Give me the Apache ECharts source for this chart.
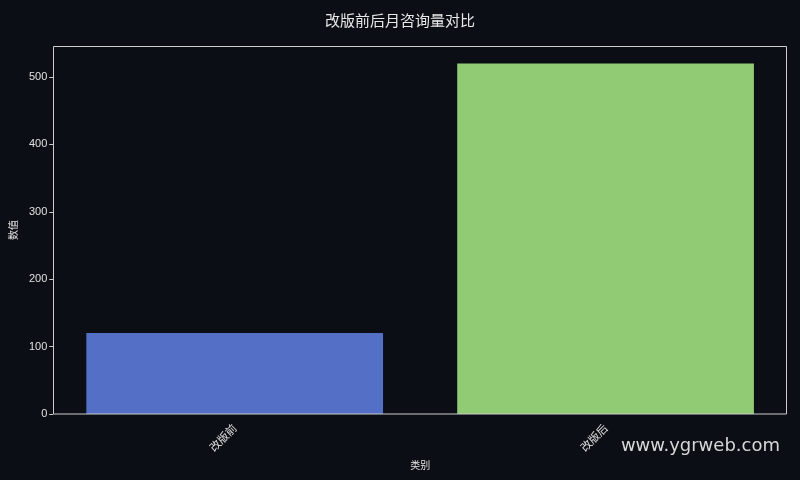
<!DOCTYPE html>
<html><head><meta charset="utf-8">
<script src="https://cdn.jsdelivr.net/npm/echarts@6/dist/echarts.min.js"></script>
<style>html,body{margin:0;padding:0;background:#0b0e14;}#c{width:800px;height:480px;}</style>
</head><body><div id="c"></div>
<script>
const categories = ['改版前', '改版后'];
const values = [120, 520];
const barColors = ['#5470c6', '#91cc75'];
const yTicks = [0, 100, 200, 300, 400, 500];

const chart = echarts.init(document.getElementById('c'));
chart.setOption({
  backgroundColor: '#0b0e14',
  animation: false,
  title: {
    text: '改版前后月咨询量对比', left: 'center', top: 8,
    textStyle: { color: '#e8e8e8', fontSize: 15, fontWeight: 'normal', fontFamily: 'Noto Sans CJK SC' }
  },
  grid: { left: 49, right: 9, top: 46, bottom: 66, show: false },
  xAxis: {
    type: 'category', data: categories,
    name: '类别', nameLocation: 'middle', nameGap: 40,
    nameTextStyle: { color: '#e0e0e0', fontSize: 10, fontFamily: 'Noto Sans CJK SC' },
    axisLine: { show: false },
    axisTick: { alignWithLabel: true, length: 4, lineStyle: { color: '#cccccc' } },
    axisLabel: { rotate: 45, color: '#e0e0e0', fontSize: 11, margin: 12, fontFamily: 'Noto Sans CJK SC' }
  },
  yAxis: {
    type: 'value', min: 0, max: 546, offset: -4,
    name: '数值', nameLocation: 'middle', nameGap: 34,
    nameTextStyle: { color: '#e0e0e0', fontSize: 10, fontFamily: 'Noto Sans CJK SC' },
    axisLine: { show: false },
    axisTick: { show: true, length: 4, customValues: yTicks, lineStyle: { color: '#cccccc' } },
    splitLine: { show: false },
    axisLabel: {
      color: '#e0e0e0', fontSize: 11, margin: 6, fontFamily: 'Liberation Sans',
      customValues: yTicks
    }
  },
  series: [{
    type: 'bar', barWidth: '80%',
    data: values.map((v, i) => ({ value: v, itemStyle: { color: barColors[i] } }))
  }],
  graphic: [{
    type: 'rect', z: 100, silent: true,
    shape: { x: 53.5, y: 46.5, width: 733, height: 367.5 },
    style: { fill: 'none', stroke: '#cccccc', lineWidth: 1 }
  }, {
    type: 'text', right: 20, top: 437,
    style: { text: 'www.ygrweb.com', fill: '#d8d8d8', fontSize: 18, fontFamily: 'DejaVu Sans' }
  }]
});
</script></body></html>
